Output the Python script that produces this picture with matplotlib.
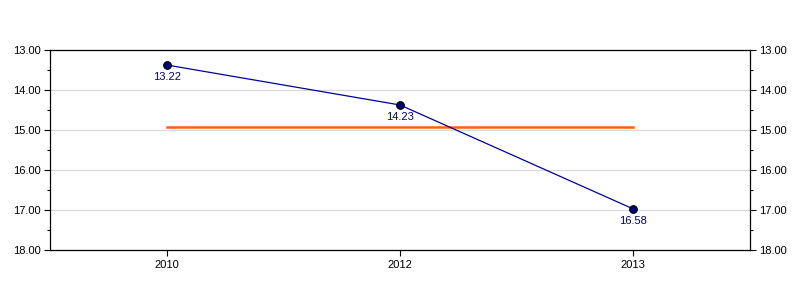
import matplotlib.pyplot as plt
from matplotlib.ticker import MultipleLocator, FormatStrFormatter

plt.rcParams['font.family'] = ['Liberation Sans', 'DejaVu Sans']

years = ["2010", "2012", "2013"]
positions = [13.375, 14.375, 16.975]
labels = ["13.22", "14.23", "16.58"]
reference = 14.925

fig = plt.figure(figsize=(8, 3), dpi=100)
ax = fig.add_axes([0.0625, 0.1667, 0.875, 0.6667])

x = list(range(len(years)))
ax.plot(x, positions, color="#0000a0", lw=0.9, zorder=3)
ax.plot(x, positions, "o", color="#000080", mec="black", mew=0.8, ms=5.5, zorder=4)
ax.plot([x[0], x[-1]], [reference, reference], color="#ff6010", lw=1.8, zorder=2)

for xi, yi, lab in zip(x, positions, labels):
    ax.annotate(lab, (xi, yi), xytext=(0, -5), textcoords="offset points",
                ha="center", va="top", fontsize=8, color="#000080")

ax.set_xlim(-0.5, 2.5)
ax.set_ylim(18, 13)
ax.set_xticks(x)
ax.set_xticklabels(years)
ax.yaxis.set_major_locator(MultipleLocator(1))
ax.yaxis.set_minor_locator(MultipleLocator(0.5))
ax.yaxis.set_major_formatter(FormatStrFormatter("%.2f"))
ax.grid(axis="y", color="#d8d8d8", lw=0.8)
ax.set_axisbelow(True)

ax.tick_params(axis="y", which="major", length=4.5, width=0.8, labelsize=8,
               left=True, right=True, labelleft=True, labelright=True, pad=2)
ax.tick_params(axis="y", which="minor", length=2.5, width=0.8, left=True, right=True)
ax.tick_params(axis="x", length=4.5, width=0.8, labelsize=8, pad=3)
for s in ax.spines.values():
    s.set_linewidth(0.9)

fig.savefig("out.png", dpi=100)
